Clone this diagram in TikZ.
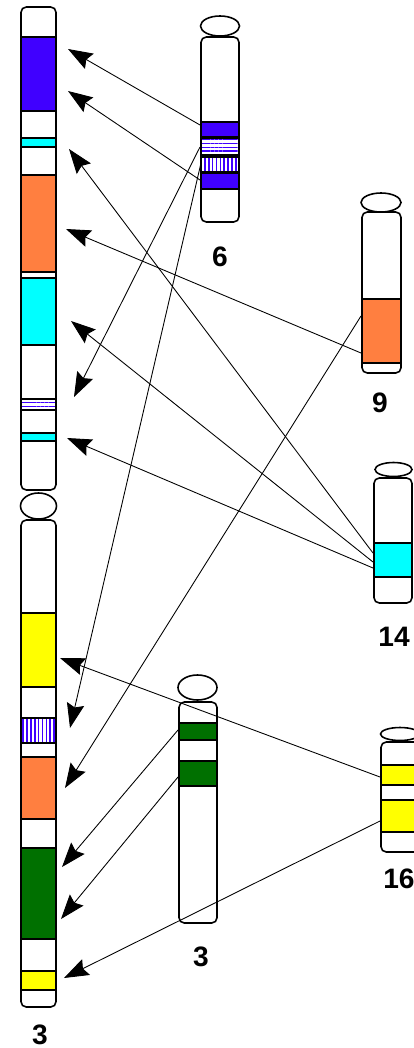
\documentclass[tikz,border=0pt]{standalone}
\usepackage{fontspec}
\setmainfont{Liberation Sans}
\usetikzlibrary{arrows.meta,patterns.meta}

\definecolor{bandblue}{RGB}{64,0,255}
\definecolor{bandorange}{RGB}{255,127,64}
\definecolor{bandcyan}{RGB}{0,255,255}
\definecolor{bandyellow}{RGB}{255,255,0}
\definecolor{bandgreen}{RGB}{0,112,0}

\begin{document}
\begin{tikzpicture}[x=0.02cm, y=-0.02cm, >={Stealth[length=14pt,width=10pt,inset=2pt]},
   chrom/.style={draw, fill=white, line width=0.9pt, rounded corners=3pt},
   band/.style={draw, line width=0.9pt},
   hlines/.style={band, pattern={Lines[angle=0,distance=2.2pt,line width=0.9pt]}, pattern color=bandblue},
   vlines/.style={band, pattern={Lines[angle=90,distance=2.2pt,line width=0.9pt]}, pattern color=bandblue},
   cen/.style={draw, fill=white, line width=0.9pt},
   lbl/.style={font=\fontsize{16}{18}\selectfont\bfseries},
   link/.style={->, line width=0.5pt}]
   \useasboundingbox (0,0) rectangle (413,1048);

   % big chromosome 3, upper part
   \draw[chrom] (21,7) rectangle (56,490);
   \draw[band, fill=bandblue] (21,37) rectangle (56,111);
   \draw[band, fill=bandcyan] (21,138) rectangle (56,147);
   \draw[band, fill=bandorange] (21,175) rectangle (56,272);
   \draw[band, fill=bandcyan] (21,278) rectangle (56,345);
   \draw[hlines] (21,399) rectangle (56,410);
   \draw[band, fill=bandcyan] (21,433) rectangle (56,441);
   \draw[cen] (38.5,506) ellipse [x radius=18, y radius=13];
   % big chromosome 3, lower part
   \draw[chrom] (21,520) rectangle (56,1007);
   \draw[band, fill=bandyellow] (21,613) rectangle (56,687);
   \draw[vlines] (21,718) rectangle (56,743);
   \draw[band, fill=bandorange] (21,757) rectangle (56,819);
   \draw[band, fill=bandgreen] (21,848) rectangle (56,939);
   \draw[band, fill=bandyellow] (21,971) rectangle (56,990);
   \node[lbl] (l3a) at (40,1035) {3};

   % chromosome 6
   \draw[cen] (220,26) ellipse [x radius=19.5, y radius=10];
   \draw[chrom] (201,37) rectangle (239,222);
   \draw[band, fill=bandblue] (201,122) rectangle (239,137);
   \draw[hlines] (201,138) rectangle (239,155);
   \draw[vlines] (201,157) rectangle (239,172);
   \draw[band, fill=bandblue] (201,173) rectangle (239,189);
   \node[lbl] (l6) at (220,257) {6};

   % chromosome 9
   \draw[cen] (381,202.5) ellipse [x radius=20, y radius=9.5];
   \draw[chrom] (362,212) rectangle (401,373);
   \draw[band, fill=bandorange] (362,299) rectangle (401,363);
   \node[lbl] (l9) at (380,403) {9};

   % chromosome 14
   \draw[cen] (393.5,469.5) ellipse [x radius=18.5, y radius=7];
   \draw[chrom] (374,478) rectangle (412,603);
   \draw[band, fill=bandcyan] (374,543) rectangle (412,577);
   \node[lbl] (l14) at (394,637) {14};

   % chromosome 16
   \draw[cen] (400,734) ellipse [x radius=19.5, y radius=6.5];
   \draw[chrom] (381,742) rectangle (419,852);
   \draw[band, fill=bandyellow] (381,765) rectangle (419,785);
   \draw[band, fill=bandyellow] (381,800) rectangle (419,832);
   \node[lbl] (l16) at (399,879) {16};

   % small chromosome 3
   \draw[cen] (197.5,687.5) ellipse [x radius=19.5, y radius=12.5];
   \draw[chrom] (179,702) rectangle (217,923);
   \draw[band, fill=bandgreen] (179,723) rectangle (217,740);
   \draw[band, fill=bandgreen] (179,761) rectangle (217,786);
   \node[lbl] (l3b) at (201,957) {3};

   % ends of the links
   \coordinate (s1) at (200,125);
   \coordinate (s2) at (200,180);
   \coordinate (s3) at (200,147);
   \coordinate (s4) at (201,163);
   \coordinate (s5) at (361,316);
   \coordinate (s6) at (361,353);
   \coordinate (s7) at (373,553);
   \coordinate (s8) at (373,562);
   \coordinate (s9) at (373,568);
   \coordinate (s10) at (380,777);
   \coordinate (s11) at (380,821);
   \coordinate (s12) at (178,730);
   \coordinate (s13) at (178,777);
   \coordinate (t1) at (68,49);
   \coordinate (t2) at (68,91);
   \coordinate (t3) at (69,149);
   \coordinate (t4) at (66,229);
   \coordinate (t5) at (71,321);
   \coordinate (t6) at (74,397);
   \coordinate (t7) at (67,438);
   \coordinate (t8) at (60,658);
   \coordinate (t9) at (70,728);
   \coordinate (t10) at (65,788);
   \coordinate (t11) at (62,867);
   \coordinate (t12) at (61,919);
   \coordinate (t13) at (64,978);

   \draw[link] (s1) -- (t1);
   \draw[link] (s2) -- (t2);
   \draw[link] (s7) -- (t3);
   \draw[link] (s6) -- (t4);
   \draw[link] (s8) -- (t5);
   \draw[link] (s3) -- (t6);
   \draw[link] (s9) -- (t7);
   \draw[link] (s10) -- (t8);
   \draw[link] (s4) -- (t9);
   \draw[link] (s5) -- (t10);
   \draw[link] (s12) -- (t11);
   \draw[link] (s13) -- (t12);
   \draw[link] (s11) -- (t13);
\end{tikzpicture}
\end{document}
